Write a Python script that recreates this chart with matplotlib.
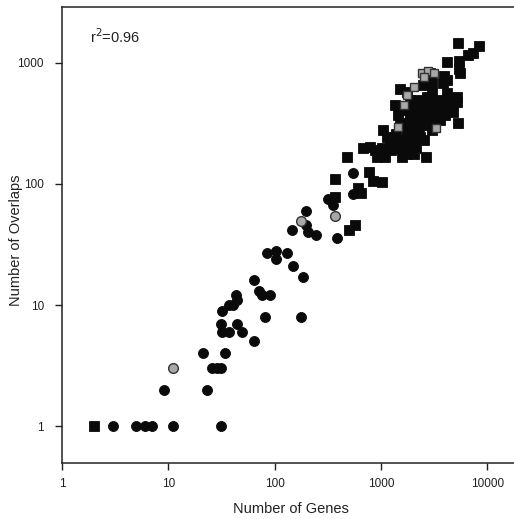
import matplotlib
matplotlib.use("Agg")
import matplotlib.pyplot as plt
from matplotlib.ticker import FixedLocator, NullLocator

# ---- data ----
circ_x = [3.0, 5.0, 6.1, 7.1, 11, 31, 9.1, 23, 26, 28.5, 31, 21, 34, 64, 32, 37.5, 49,
          31, 44, 32, 37, 41, 44, 43, 81, 176, 64, 72, 76, 91, 186, 148, 84, 103, 103,
          130, 147, 197, 197, 208, 245, 320, 352, 384, 543, 543]
circ_y = [1, 1, 1, 1, 1, 1, 2, 2, 3, 3, 3, 4, 4, 5, 6, 6, 6,
          7, 7, 9, 10, 10, 11, 12, 8, 8, 16, 13, 12, 12, 17, 21, 27, 28, 24,
          27, 42, 60, 46, 40, 38, 75, 67, 36, 124, 83]

gcirc_x = [11, 176, 370]
gcirc_y = [3, 49, 54]

sq_x = [2, 477, 370, 370, 504, 570, 778, 837, 1030, 613, 650,
        683, 789, 880, 1018, 1094, 913, 1570, 1750, 2050, 2640,
        1054, 1135, 1218, 1358, 1750, 1750, 2094, 1878, 2020, 2250, 2333, 1513,
        2094, 2700, 3114, 2897, 3597, 3006, 5346, 4732, 5164, 5164, 4159, 3350,
        2700, 2250, 1513, 1750, 2505, 3006, 2897, 3925, 4159, 3838,
        4159, 5467, 5467, 5546, 5346, 8375, 7400, 6640,
        1358, 1686, 2333, 2600, 3228, 4009, 1878, 2437, 3443, 4467, 1449, 1962, 2541,
        1600, 1900, 2200, 2500, 2800, 3100, 1400, 1700, 2000, 2300, 2700, 3000,
        1250, 1500, 1800, 2150, 4200, 3700]
sq_y = [1, 168, 111, 78, 42, 46, 125, 106, 103, 93, 84,
        197, 203, 191, 197, 168, 168, 168, 177, 177, 166,
        279, 246, 217, 217, 279, 239, 217, 360, 318, 279, 246, 318,
        409, 409, 384, 360, 338, 279, 318, 396, 527, 479, 501, 494,
        527, 494, 606, 579, 658, 687, 822, 781, 724, 684,
        1014, 1039, 887, 831, 1455, 1382, 1217, 1164,
        450, 409, 351, 307, 351, 372, 494, 450, 425, 450, 372, 254, 231,
        300, 330, 380, 420, 400, 330, 260, 230, 260, 300, 450, 560,
        190, 200, 210, 200, 560, 430]

gsq_x = [2421, 2793, 2541, 2061, 1750, 1660, 3297, 1459, 3177]
gsq_y = [831, 864, 762, 637, 544, 450, 289, 294, 822]

xticks = [1, 10, 100, 1000, 10000]
xtick_labels = ["1", "10", "100", "1000", "10000"]
yticks = [1, 10, 100, 1000]
ytick_labels = ["1", "10", "100", "1000"]

plt.rcParams['font.family'] = ['Liberation Sans', 'DejaVu Sans']

fig = plt.figure(figsize=(5.14, 5.19), dpi=100)
ax = fig.add_axes([62/514, 56/519, 1 - 62/514, (463-7)/519])

blk = '#0a0a0a'
ax.plot(sq_x, sq_y, 's', ms=6.6, mfc=blk, mec=blk, mew=0.6, zorder=3)
ax.plot(gsq_x, gsq_y, 's', ms=6.4, mfc='#a8a8a8', mec='#333333', mew=1.0, zorder=4)
ax.plot(circ_x, circ_y, 'o', ms=7.2, mfc=blk, mec=blk, mew=0.6, zorder=3)
ax.plot(gcirc_x, gcirc_y, 'o', ms=7.0, mfc='#a8a8a8', mec='#333333', mew=1.0, zorder=4)

ax.set_xscale('log')
ax.set_yscale('log')
ax.set_xlim(1, 17900)
ax.set_ylim(0.495, 2900)

ax.xaxis.set_major_locator(FixedLocator(xticks))
ax.yaxis.set_major_locator(FixedLocator(yticks))
ax.xaxis.set_minor_locator(NullLocator())
ax.yaxis.set_minor_locator(NullLocator())
ax.set_xticklabels(xtick_labels)
ax.set_yticklabels(ytick_labels)
ax.tick_params(axis='both', direction='out', length=5, width=1.0, labelsize=8.5,
               colors='#222222')
ax.tick_params(axis='x', pad=6)
ax.tick_params(axis='y', pad=8)

for s in ['left', 'bottom', 'top']:
    ax.spines[s].set_linewidth(1.1)
    ax.spines[s].set_color('#222222')
ax.spines['right'].set_visible(False)

ax.set_xlabel('Number of Genes', fontsize=10.5, color='#222222')
ax.set_ylabel('Number of Overlaps', fontsize=10.5, color='#222222')
ax.xaxis.set_label_coords((291 - 62) / 452, (463 - 509) / 456)
ax.yaxis.set_label_coords((16 - 62) / 452, (463 - 240) / 456)
ax.xaxis.label.set_va('center')
ax.yaxis.label.set_va('center')

ax.text(0.062, 0.934, r'r$^2$=0.96', transform=ax.transAxes, fontsize=10.5,
        color='#222222', va='center', ha='left')

fig.savefig('out.png', dpi=100)
